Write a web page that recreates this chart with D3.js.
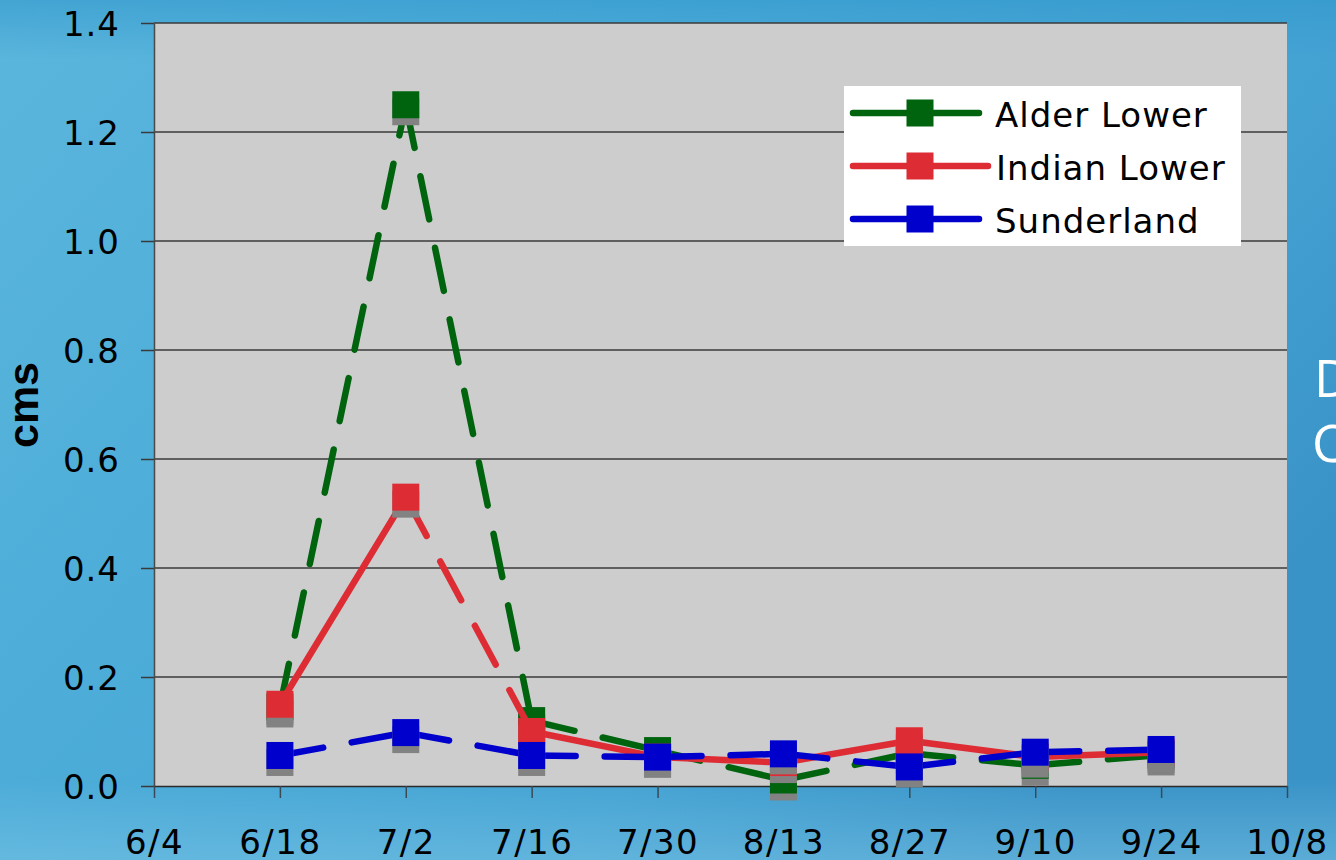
<!DOCTYPE html>
<html>
<head>
<meta charset="utf-8">
<script src="https://cdn.jsdelivr.net/npm/d3@7"></script>
<style>
html,body{margin:0;padding:0;overflow:hidden;background:#4aa9d6;}
svg{display:block;}
</style>
</head>
<body>
<svg id="chart" width="1336" height="860"></svg>
<script>
// ---- data ----
const dates = ["2008-06-18","2008-07-02","2008-07-16","2008-07-30","2008-08-13","2008-08-27","2008-09-10","2008-09-24"];
const seriesNames = ["Alder Lower","Indian Lower","Sunderland"];
const alderLower  = [0.145, 1.25, 0.12, 0.065, 0.011, 0.060, 0.038, 0.057];
const indianLower = [0.150, 0.53, 0.10, 0.053, 0.043, 0.083, 0.053, 0.062];
const sunderland  = [0.056, 0.098, 0.056, 0.053, 0.059, 0.035, 0.062, 0.067];
// which segments are dashed (segment i goes from point i to i+1)
const alderDashed  = [true,true,true,true,true,true,true];
const indianDashed = [false,true,false,false,false,false,false];
const sunderDashed = [true,true,true,true,true,true,true];
const xDomain = ["2008-06-04","2008-10-08"];
const yTicks = [0,0.2,0.4,0.6,0.8,1.0,1.2,1.4];
const yLabel = "cms";

const parse = d3.timeParse("%Y-%m-%d");
const colors = ["#00640f","#de2c34","#0000cd"];

const svg = d3.select("#chart");
const W = 1336, H = 860;

// background
const defs = svg.append("defs");
const g1 = defs.append("linearGradient").attr("id","bg").attr("x1","0").attr("y1","0").attr("x2","1").attr("y2","0.6");
g1.append("stop").attr("offset","0").attr("stop-color","#5cb6dc");
g1.append("stop").attr("offset","0.35").attr("stop-color","#4eaed9");
g1.append("stop").attr("offset","0.75").attr("stop-color","#45a3d3");
g1.append("stop").attr("offset","1").attr("stop-color","#3a93c7");
svg.append("rect").attr("width",W).attr("height",H).attr("fill","url(#bg)");
const g2 = defs.append("linearGradient").attr("id","bgTop").attr("x1","0").attr("y1","0").attr("x2","0").attr("y2","1");
g2.append("stop").attr("offset","0").attr("stop-color","#2f96cc").attr("stop-opacity",0.55);
g2.append("stop").attr("offset","1").attr("stop-color","#2f96cc").attr("stop-opacity",0);
svg.append("rect").attr("width",W).attr("height",60).attr("fill","url(#bgTop)");
const g3 = defs.append("linearGradient").attr("id","bgBot").attr("x1","0").attr("y1","0").attr("x2","0").attr("y2","1");
g3.append("stop").attr("offset","0").attr("stop-color","#7cc6e6").attr("stop-opacity",0);
g3.append("stop").attr("offset","1").attr("stop-color","#7cc6e6").attr("stop-opacity",0.5);
svg.append("rect").attr("y",780).attr("width",W).attr("height",80).attr("fill","url(#bgBot)");

// slide text partially visible at right
svg.append("text").attr("x",1314).attr("y",397).attr("fill","#ffffff")
  .style("font-family","'Open Sans', sans-serif").style("font-size","52px").text("D");
svg.append("text").attr("x",1312).attr("y",462).attr("fill","#ffffff")
  .style("font-family","'Open Sans', sans-serif").style("font-size","52px").text("C");

// plot area
const L = 154, R = 1287, T = 23, B = 786;
const x = d3.scaleTime().domain(xDomain.map(parse)).range([L,R]);
const y = d3.scaleLinear().domain([0,1.4]).range([B,T]);

svg.append("rect").attr("x",L).attr("y",T).attr("width",R-L).attr("height",B-T).attr("fill","#cdcdcd");

// gridlines
svg.append("g").selectAll("line").data(yTicks.filter(v=>v>0)).join("line")
  .attr("x1",L).attr("x2",R).attr("y1",d=>y(d)).attr("y2",d=>y(d))
  .attr("stroke","#3a3a3a").attr("stroke-width",1.5);

const font = "'DejaVu Sans', Verdana, sans-serif";

// y axis
const yAxis = svg.append("g").attr("transform",`translate(${L},0)`)
  .call(d3.axisLeft(y).tickValues(yTicks).tickFormat(d3.format(".1f")).tickSize(13).tickPadding(21).tickSizeOuter(0));
yAxis.select(".domain").attr("stroke","#4a4a4a").attr("stroke-width",1.5);
yAxis.selectAll(".tick line").attr("stroke","#3a3a3a").attr("stroke-width",1.5);
yAxis.selectAll("text").attr("fill","#000").attr("dy","0.37em")
  .style("font-family",font).style("font-size","34px").style("letter-spacing","1px");

// x axis
const xTicks = d3.range(0,10).map(i=>d3.timeDay.offset(parse(xDomain[0]), i*14));
const xAxis = svg.append("g").attr("transform",`translate(0,${B})`)
  .call(d3.axisBottom(x).tickValues(xTicks).tickFormat(d3.timeFormat("%-m/%-d")).tickSize(12).tickSizeOuter(0));
xAxis.select(".domain").attr("stroke","#2a2a2a").attr("stroke-width",1.5);
xAxis.selectAll(".tick line").attr("stroke","#3a4a55").attr("stroke-width",1.5);
xAxis.selectAll("text").attr("fill","#000").attr("y",68).attr("dy",0)
  .style("font-family",font).style("font-size","34px").style("letter-spacing","1.5px");

// y label
svg.append("text").attr("transform","translate(38,405) rotate(-90)")
  .attr("text-anchor","middle").attr("fill","#000")
  .style("font-family","'Liberation Sans', Arial, sans-serif").style("font-weight","bold").style("font-size","43px")
  .text(yLabel);

// series
const allSeries = [
  {name:seriesNames[0], values:alderLower, dashed:alderDashed, color:colors[0]},
  {name:seriesNames[1], values:indianLower, dashed:indianDashed, color:colors[1]},
  {name:seriesNames[2], values:sunderland, dashed:sunderDashed, color:colors[2]}
];
const M = 27;
const plot = svg.append("g");
allSeries.forEach(s=>{
  const pts = dates.map((d,i)=>({x:x(parse(d)), y:y(s.values[i])}));
  const segs = d3.pairs(pts).map((p,i)=>({a:p[0], b:p[1], dashed:s.dashed[i]}));
  const g = plot.append("g");
  g.selectAll("line").data(segs).join("line")
    .attr("x1",d=>d.a.x).attr("y1",d=>d.a.y).attr("x2",d=>d.b.x).attr("y2",d=>d.b.y)
    .attr("stroke",s.color).attr("stroke-width",6.5).attr("stroke-linecap","round")
    .attr("stroke-dasharray",d=>d.dashed?"44,29":null);
  g.selectAll("rect.sh").data(pts).join("rect").attr("class","sh")
    .attr("x",d=>d.x-M/2).attr("y",d=>d.y-M/2+7).attr("width",M).attr("height",M).attr("fill","#828282");
  g.selectAll("rect.mk").data(pts).join("rect").attr("class","mk")
    .attr("x",d=>d.x-M/2).attr("y",d=>d.y-M/2).attr("width",M).attr("height",M).attr("fill",s.color);
});

// legend
const lg = svg.append("g");
lg.append("rect").attr("x",844).attr("y",86).attr("width",397).attr("height",160).attr("fill","#ffffff");
const rowsY = [113,166,219];
const lineEnd = [979,988,979];
allSeries.forEach((s,i)=>{
  lg.append("line").attr("x1",853).attr("x2",lineEnd[i]).attr("y1",rowsY[i]).attr("y2",rowsY[i])
    .attr("stroke",s.color).attr("stroke-width",6.5).attr("stroke-linecap","round");
  lg.append("rect").attr("x",920-M/2).attr("y",rowsY[i]-M/2).attr("width",M).attr("height",M).attr("fill",s.color);
  lg.append("text").attr("x",i===1?996:995).attr("y",rowsY[i]+14).attr("fill","#000")
    .style("font-family",font).style("font-size","34px").style("letter-spacing","1px").text(s.name);
});
</script>
</body>
</html>
